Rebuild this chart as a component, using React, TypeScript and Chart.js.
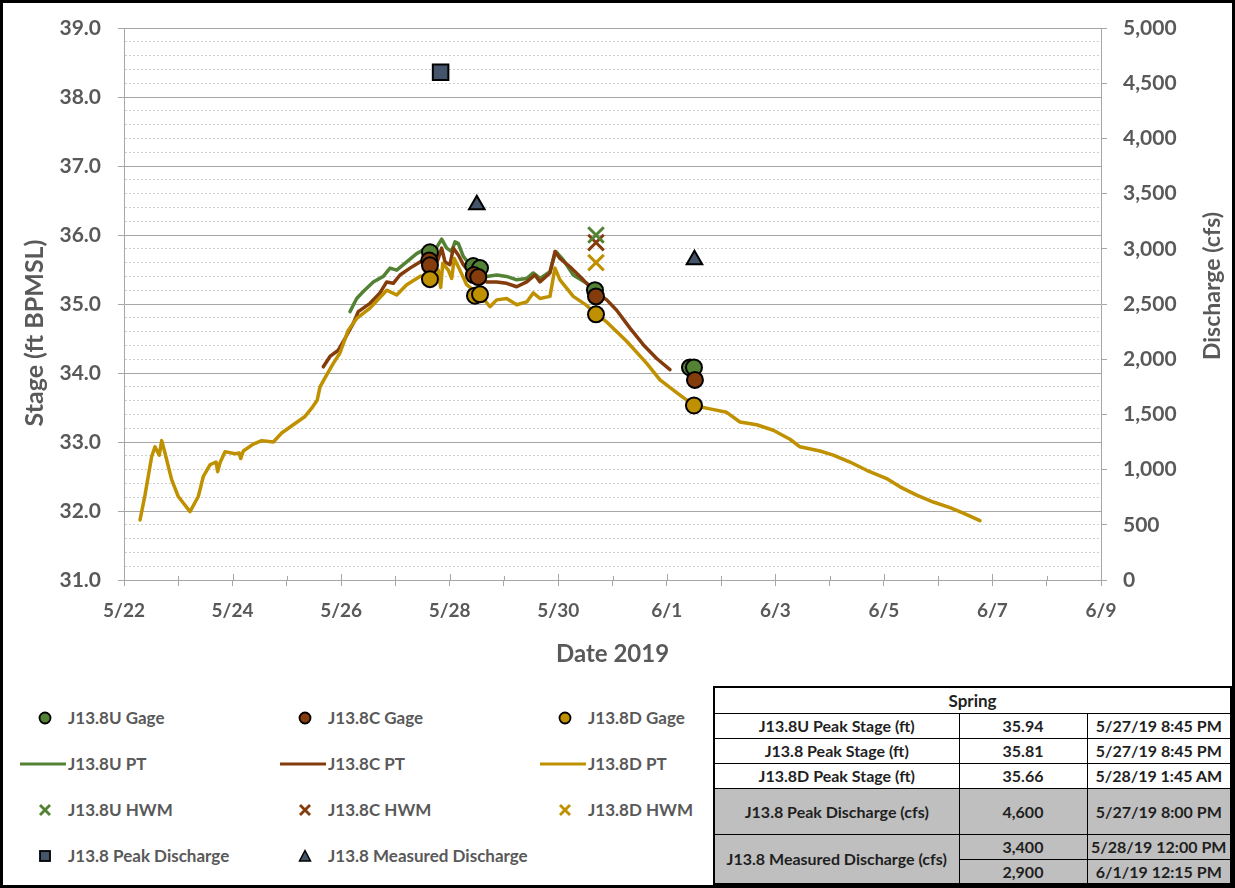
import React, { useEffect, useRef } from 'react';
import { Chart, registerables } from 'chart.js';

Chart.register(...registerables);

// x values are days since 5/22/2019 00:00
const X_TICK_LABELS = ['5/22', '5/24', '5/26', '5/28', '5/30', '6/1', '6/3', '6/5', '6/7', '6/9'];
const X_MIN = 0;
const X_MAX = 18;

// J13.8U PT (stage, ft)
const uPtDays = [4.164, 4.287, 4.409, 4.593, 4.777, 4.901, 5.024, 5.208, 5.392, 5.577, 5.73, 5.853, 5.945, 6.037, 6.098, 6.159, 6.251, 6.374, 6.559, 6.682, 6.866, 7.05, 7.235, 7.419, 7.54, 7.664, 7.848, 7.909, 7.959, 8.093, 8.277, 8.524, 8.646, 8.769];
const uPtStage = [34.89, 35.08, 35.18, 35.32, 35.4, 35.52, 35.49, 35.61, 35.73, 35.81, 35.78, 35.94, 35.81, 35.76, 35.9, 35.88, 35.69, 35.57, 35.49, 35.4, 35.42, 35.4, 35.35, 35.37, 35.45, 35.37, 35.47, 35.64, 35.76, 35.64, 35.42, 35.3, 35.23, 35.17];

// J13.8C PT
const cPtDays = [3.672, 3.795, 3.948, 4.071, 4.224, 4.316, 4.532, 4.716, 4.84, 4.961, 5.085, 5.269, 5.453, 5.637, 5.761, 5.853, 5.914, 6.006, 6.067, 6.159, 6.251, 6.374, 6.559, 6.682, 6.866, 7.05, 7.235, 7.419, 7.572, 7.664, 7.848, 7.94, 8.032, 8.216, 8.462, 8.646, 8.893, 9.077, 9.322, 9.567, 9.814, 10.059];
const cPtStage = [34.09, 34.24, 34.33, 34.5, 34.72, 34.89, 35.01, 35.16, 35.32, 35.3, 35.42, 35.52, 35.61, 35.69, 35.59, 35.81, 35.61, 35.57, 35.81, 35.71, 35.57, 35.45, 35.37, 35.32, 35.32, 35.3, 35.25, 35.32, 35.42, 35.32, 35.45, 35.76, 35.66, 35.54, 35.35, 35.2, 35.06, 34.91, 34.65, 34.41, 34.21, 34.05];

// J13.8D PT
const dPtDays = [0.295, 0.387, 0.51, 0.571, 0.65, 0.695, 0.755, 0.879, 1.0, 1.216, 1.369, 1.461, 1.584, 1.695, 1.726, 1.769, 1.861, 2.045, 2.124, 2.15, 2.198, 2.382, 2.537, 2.751, 2.905, 3.119, 3.335, 3.458, 3.561, 3.611, 3.703, 3.856, 3.979, 4.132, 4.287, 4.532, 4.84, 5.024, 5.208, 5.453, 5.637, 5.79, 5.835, 5.872, 5.975, 6.037, 6.085, 6.19, 6.313, 6.498, 6.619, 6.743, 6.866, 7.05, 7.235, 7.419, 7.54, 7.664, 7.848, 7.94, 8.032, 8.277, 8.524, 8.694, 8.893, 9.261, 9.63, 9.875, 10.243, 10.501, 10.796, 11.103, 11.348, 11.656, 11.962, 12.27, 12.454, 12.822, 13.068, 13.375, 13.683, 14.051, 14.296, 14.604, 14.91, 15.218, 15.463, 15.77];
const dPtStage = [31.87, 32.23, 32.79, 32.93, 32.81, 33.02, 32.84, 32.45, 32.21, 31.99, 32.21, 32.5, 32.67, 32.71, 32.57, 32.7, 32.86, 32.83, 32.84, 32.76, 32.87, 32.97, 33.02, 33.0, 33.13, 33.25, 33.37, 33.49, 33.61, 33.8, 33.93, 34.14, 34.29, 34.62, 34.79, 34.94, 35.2, 35.13, 35.28, 35.4, 35.44, 35.49, 35.24, 35.59, 35.49, 35.37, 35.66, 35.49, 35.28, 35.16, 35.08, 34.96, 35.06, 35.08, 34.99, 35.03, 35.16, 35.08, 35.11, 35.52, 35.35, 35.11, 34.98, 34.85, 34.74, 34.46, 34.14, 33.9, 33.68, 33.53, 33.48, 33.43, 33.29, 33.25, 33.17, 33.04, 32.93, 32.87, 32.81, 32.71, 32.59, 32.47, 32.35, 32.23, 32.13, 32.05, 31.97, 31.86];

// Gage readings
const uGageDays = [5.637, 6.435, 6.559, 8.677, 10.427, 10.501];
const uGageStage = [35.75, 35.55, 35.52, 35.2, 34.08, 34.08];
const cGageDays = [5.624, 5.637, 6.447, 6.527, 8.696, 10.519];
const cGageStage = [35.63, 35.56, 35.42, 35.39, 35.11, 33.9];
const dGageDays = [5.637, 6.466, 6.559, 8.696, 10.501];
const dGageStage = [35.36, 35.12, 35.14, 34.85, 33.53];

// High water marks
const hwmDays = [8.696];
const uHwmStage = [36.0];
const cHwmStage = [35.89];
const dHwmStage = [35.6];

// Discharge (cfs)
const peakDischargeDays = [5.833];
const peakDischargeCfs = [4600];
const measuredDischargeDays = [6.5, 10.51];
const measuredDischargeCfs = [3400, 2900];

// Summary table
const tableStageLabels = ['J13.8U Peak Stage (ft)', 'J13.8 Peak Stage (ft)', 'J13.8D Peak Stage (ft)'];
const tableStageValues = ['35.94', '35.81', '35.66'];
const tableStageTimes = ['5/27/19 8:45 PM', '5/27/19 8:45 PM', '5/28/19 1:45 AM'];
const tablePeakQ = ['J13.8 Peak Discharge (cfs)', '4,600', '5/27/19 8:00 PM'];
const tableMeasuredLabel = 'J13.8 Measured Discharge (cfs)';
const tableMeasuredValues = ['3,400', '2,900'];
const tableMeasuredTimes = ['5/28/19 12:00 PM', '6/1/19 12:15 PM'];

const GREEN = '#548235';
const BROWN = '#843C0C';
const GOLD = '#BF9000';
const SLATE = '#44546A';
const TEXT = '#595959';
const FONT = 'Lato, "Open Sans", sans-serif';

const Y_TITLE = 'Stage (ft BPMSL)';
const Y2_TITLE = 'Discharge (cfs)';

const pts = (xs: number[], ys: number[]) => xs.map((x, i) => ({ x, y: ys[i] }));
const isInt = (v: number) => Math.abs(v - Math.round(v)) < 1e-6;

const crossTicks = {
  id: 'crossTicks',
  afterDraw(chart: any) {
    const xs = chart.scales.x;
    const y0 = chart.chartArea.bottom;
    const ctx = chart.ctx;
    ctx.save();
    ctx.strokeStyle = '#a6a6a6';
    ctx.lineWidth = 1;
    xs.ticks.forEach((t: any) => {
      const px = Math.round(xs.getPixelForValue(t.value)) + 0.5;
      const up = Math.round(t.value) % 2 === 0 ? 6 : 4;
      ctx.beginPath();
      ctx.moveTo(px, y0 - up);
      ctx.lineTo(px, y0);
      ctx.stroke();
    });
    ctx.restore();
  },
};

// vertical axis titles, placed like the Excel original (not exactly centred)
const sideTitles = {
  id: 'sideTitles',
  afterDraw(chart: any) {
    const { ctx, chartArea } = chart;
    const mid = (chartArea.top + chartArea.bottom) / 2;
    ctx.save();
    ctx.fillStyle = TEXT;
    ctx.font = `bold 25px ${FONT}`;
    ctx.textAlign = 'center';
    ctx.textBaseline = 'middle';
    ctx.translate(chartArea.left - 89, mid + 29);
    ctx.rotate(-Math.PI / 2);
    ctx.fillText(Y_TITLE, 0, 0);
    ctx.restore();
    ctx.save();
    ctx.fillStyle = TEXT;
    ctx.font = `bold 23px ${FONT}`;
    ctx.textAlign = 'center';
    ctx.textBaseline = 'middle';
    ctx.translate(chartArea.right + 112, mid - 18);
    ctx.rotate(-Math.PI / 2);
    ctx.fillText(Y2_TITLE, 0, 0);
    ctx.restore();
  },
};

function ChartCanvas() {
  const ref = useRef<HTMLCanvasElement>(null);
  useEffect(() => {
    let chart: Chart | null = null;
    let cancelled = false;
    const build = () => {
      if (cancelled || !ref.current) return;
      const gage = (label: string, xs: number[], ys: number[], color: string, order: number) => ({
        label, data: pts(xs, ys), showLine: false, yAxisID: 'y', order,
        pointRadius: 8, pointHoverRadius: 8, pointBackgroundColor: color,
        pointBorderColor: '#000', pointBorderWidth: 2,
      });
      const pt = (label: string, xs: number[], ys: number[], color: string, order: number) => ({
        label, data: pts(xs, ys), showLine: true, yAxisID: 'y', order,
        borderColor: color, borderWidth: 3.5, pointRadius: 0, tension: 0, fill: false,
        borderJoinStyle: 'round', borderCapStyle: 'round',
      });
      const hwm = (label: string, ys: number[], color: string) => ({
        label, data: pts(hwmDays, ys), showLine: false, yAxisID: 'y', order: 0,
        pointStyle: 'crossRot', pointRadius: 11, pointBorderColor: color, pointBorderWidth: 3,
        pointBackgroundColor: color,
      });
      const fitY = (w: number) => (s: any) => {
        s.width = w;
        s.paddingTop = 0;
        s.paddingBottom = 0;
      };
      chart = new Chart(ref.current, {
        type: 'scatter',
        data: {
          datasets: [
            gage('J13.8U Gage', uGageDays, uGageStage, GREEN, 4),
            gage('J13.8C Gage', cGageDays, cGageStage, BROWN, 3),
            gage('J13.8D Gage', dGageDays, dGageStage, GOLD, 2),
            pt('J13.8U PT', uPtDays, uPtStage, GREEN, 12),
            pt('J13.8C PT', cPtDays, cPtStage, BROWN, 11),
            pt('J13.8D PT', dPtDays, dPtStage, GOLD, 10),
            hwm('J13.8U HWM', uHwmStage, GREEN),
            hwm('J13.8C HWM', cHwmStage, BROWN),
            hwm('J13.8D HWM', dHwmStage, GOLD),
            {
              label: 'J13.8 Peak Discharge', data: pts(peakDischargeDays, peakDischargeCfs),
              showLine: false, yAxisID: 'y2', order: 0, pointStyle: 'rect', pointRadius: 11,
              pointBackgroundColor: SLATE, pointBorderColor: '#000', pointBorderWidth: 2,
            },
            {
              label: 'J13.8 Measured Discharge', data: pts(measuredDischargeDays, measuredDischargeCfs),
              showLine: false, yAxisID: 'y2', order: 0, pointStyle: 'triangle', pointRadius: 9,
              pointBackgroundColor: SLATE, pointBorderColor: '#000', pointBorderWidth: 2,
            },
          ] as any,
        },
        options: {
          animation: false,
          responsive: true,
          maintainAspectRatio: false,
          layout: { padding: { top: 25, bottom: 0, left: 0, right: 0 } },
          plugins: { legend: { display: false }, tooltip: { enabled: false } },
          events: [],
          scales: {
            x: {
              type: 'linear', position: 'bottom', min: X_MIN, max: X_MAX,
              afterFit: (s: any) => { s.height = 103; },
              ticks: {
                stepSize: 1, autoSkip: false, maxRotation: 0, padding: 13,
                color: TEXT, font: { family: FONT, size: 19, weight: 'bold' },
                callback: (v: any) => (Math.round(v) % 2 === 0 ? X_TICK_LABELS[Math.round(v) / 2] : ''),
              },
              grid: { drawOnChartArea: false, drawTicks: true, tickLength: 6, color: '#a6a6a6', tickColor: '#a6a6a6' },
              border: { color: '#a6a6a6', width: 1 },
              title: {
                display: true, text: 'Date 2019', color: TEXT,
                font: { family: FONT, size: 24, weight: 'bold' }, padding: { top: 0, bottom: 14 },
              },
            },
            y: {
              type: 'linear', position: 'left', min: 31, max: 39,
              afterFit: fitY(121),
              ticks: {
                stepSize: 0.2, autoSkip: false, padding: 17, color: TEXT,
                font: { family: FONT, size: 21, weight: 'bold' },
                callback: (v: any) => (isInt(v) ? Number(v).toFixed(1) : ''),
              },
              grid: {
                drawTicks: true, tickLength: 6,
                color: (c: any) => (c.tick && isInt(c.tick.value) ? '#a6a6a6' : '#cfcfcf'),
                tickColor: (c: any) => (c.tick && isInt(c.tick.value) ? '#a6a6a6' : 'rgba(0,0,0,0)'),
                lineWidth: 1,
              },
              border: {
                color: '#a6a6a6', width: 1,
                dash: (c: any) => (c.tick && !isInt(c.tick.value) ? [2, 2] : []),
              } as any,
              title: { display: false },
            },
            y2: {
              type: 'linear', position: 'right', min: 0, max: 5000,
              afterFit: fitY(131),
              ticks: {
                stepSize: 500, padding: 16, color: TEXT,
                font: { family: FONT, size: 21, weight: 'bold' },
                callback: (v: any) => Number(v).toLocaleString('en-US'),
              },
              grid: { drawOnChartArea: false, drawTicks: true, tickLength: 6, color: '#a6a6a6', tickColor: '#a6a6a6' },
              border: { color: '#a6a6a6', width: 1 },
              title: { display: false },
            },
          },
        } as any,
        plugins: [crossTicks, sideTitles],
      });
    };
    const fontsApi = (document as any).fonts;
    if (fontsApi && fontsApi.load) {
      Promise.all([fontsApi.load('bold 20px Lato'), fontsApi.load('20px Lato')]).then(build, build);
    } else build();
    return () => {
      cancelled = true;
      if (chart) chart.destroy();
    };
  }, []);
  return (
    <div style={{ position: 'absolute', left: 3, top: 3, width: 1229, height: 680 }}>
      <canvas ref={ref} />
    </div>
  );
}

type IconKind = 'circle' | 'line' | 'x' | 'square' | 'triangle';

function Icon({ kind, color }: { kind: IconKind; color: string }) {
  if (kind === 'line') {
    return (
      <svg width={46} height={10} style={{ position: 'absolute', left: -48, top: 6 }}>
        <line x1={0} y1={5} x2={46} y2={5} stroke={color} strokeWidth={3} />
      </svg>
    );
  }
  return (
    <svg width={16} height={16} style={{ position: 'absolute', left: -31, top: 3 }}>
      {kind === 'circle' && <circle cx={8} cy={8} r={5.5} fill={color} stroke="#000" strokeWidth={1.8} />}
      {kind === 'x' && (
        <g stroke={color} strokeWidth={2.8}>
          <line x1={3} y1={3} x2={13} y2={13} />
          <line x1={13} y1={3} x2={3} y2={13} />
        </g>
      )}
      {kind === 'square' && <rect x={3} y={3} width={10} height={10} fill={SLATE} stroke="#000" strokeWidth={1.8} />}
      {kind === 'triangle' && <polygon points="8,2.5 13.5,13 2.5,13" fill={SLATE} stroke="#000" strokeWidth={1.5} />}
    </svg>
  );
}

const legendItems: { label: string; kind: IconKind; color: string; col: number; row: number }[] = [
  { label: 'J13.8U Gage', kind: 'circle', color: GREEN, col: 0, row: 0 },
  { label: 'J13.8C Gage', kind: 'circle', color: BROWN, col: 1, row: 0 },
  { label: 'J13.8D Gage', kind: 'circle', color: GOLD, col: 2, row: 0 },
  { label: 'J13.8U PT', kind: 'line', color: GREEN, col: 0, row: 1 },
  { label: 'J13.8C PT', kind: 'line', color: BROWN, col: 1, row: 1 },
  { label: 'J13.8D PT', kind: 'line', color: GOLD, col: 2, row: 1 },
  { label: 'J13.8U HWM', kind: 'x', color: GREEN, col: 0, row: 2 },
  { label: 'J13.8C HWM', kind: 'x', color: BROWN, col: 1, row: 2 },
  { label: 'J13.8D HWM', kind: 'x', color: GOLD, col: 2, row: 2 },
  { label: 'J13.8 Peak Discharge', kind: 'square', color: SLATE, col: 0, row: 3 },
  { label: 'J13.8 Measured Discharge', kind: 'triangle', color: SLATE, col: 1, row: 3 },
];
const legendColX = [68, 328, 588];
const legendRowY = [718, 764, 810, 856];

function Legend() {
  return (
    <>
      {legendItems.map((it) => (
        <div
          key={it.label}
          style={{
            position: 'absolute', left: legendColX[it.col], top: legendRowY[it.row] - 11,
            font: `bold 17px ${FONT}`, color: TEXT, lineHeight: '22px', whiteSpace: 'nowrap',
          }}
        >
          <Icon kind={it.kind} color={it.color} />
          {it.label}
        </div>
      ))}
    </>
  );
}

function SummaryTable() {
  const td: React.CSSProperties = { border: '1px solid #000', padding: 0, textAlign: 'center', verticalAlign: 'middle' };
  const gray = '#bfbfbf';
  return (
    <table
      style={{
        position: 'absolute', left: 713, top: 686, width: 517, height: 197, borderCollapse: 'collapse',
        border: '2px solid #000', font: `bold 16px ${FONT}`, color: '#1f1f1f', tableLayout: 'fixed',
      }}
    >
      <colgroup>
        <col style={{ width: 245 }} />
        <col style={{ width: 128 }} />
        <col style={{ width: 144 }} />
      </colgroup>
      <tbody>
        <tr style={{ height: 26 }}>
          <td style={{ ...td, fontSize: 17 }} colSpan={3}>Spring</td>
        </tr>
        {tableStageLabels.map((l, i) => (
          <tr key={l} style={{ height: 25 }}>
            <td style={td}>{l}</td>
            <td style={td}>{tableStageValues[i]}</td>
            <td style={td}>{tableStageTimes[i]}</td>
          </tr>
        ))}
        <tr style={{ height: 46, background: gray }}>
          <td style={td}>{tablePeakQ[0]}</td>
          <td style={td}>{tablePeakQ[1]}</td>
          <td style={td}>{tablePeakQ[2]}</td>
        </tr>
        <tr style={{ height: 25, background: gray }}>
          <td style={td} rowSpan={2}>{tableMeasuredLabel}</td>
          <td style={td}>{tableMeasuredValues[0]}</td>
          <td style={td}>{tableMeasuredTimes[0]}</td>
        </tr>
        <tr style={{ height: 25, background: gray }}>
          <td style={td}>{tableMeasuredValues[1]}</td>
          <td style={td}>{tableMeasuredTimes[1]}</td>
        </tr>
      </tbody>
    </table>
  );
}

export default function App() {
  return (
    <div
      style={{
        position: 'absolute', left: 0, top: 0, width: 1235, height: 888, boxSizing: 'border-box',
        border: '3px solid #000', background: '#fff', overflow: 'hidden',
      }}
    >
      <div style={{ position: 'absolute', left: -3, top: -3, width: 1235, height: 888 }}>
        <ChartCanvas />
        <Legend />
        <SummaryTable />
      </div>
    </div>
  );
}
